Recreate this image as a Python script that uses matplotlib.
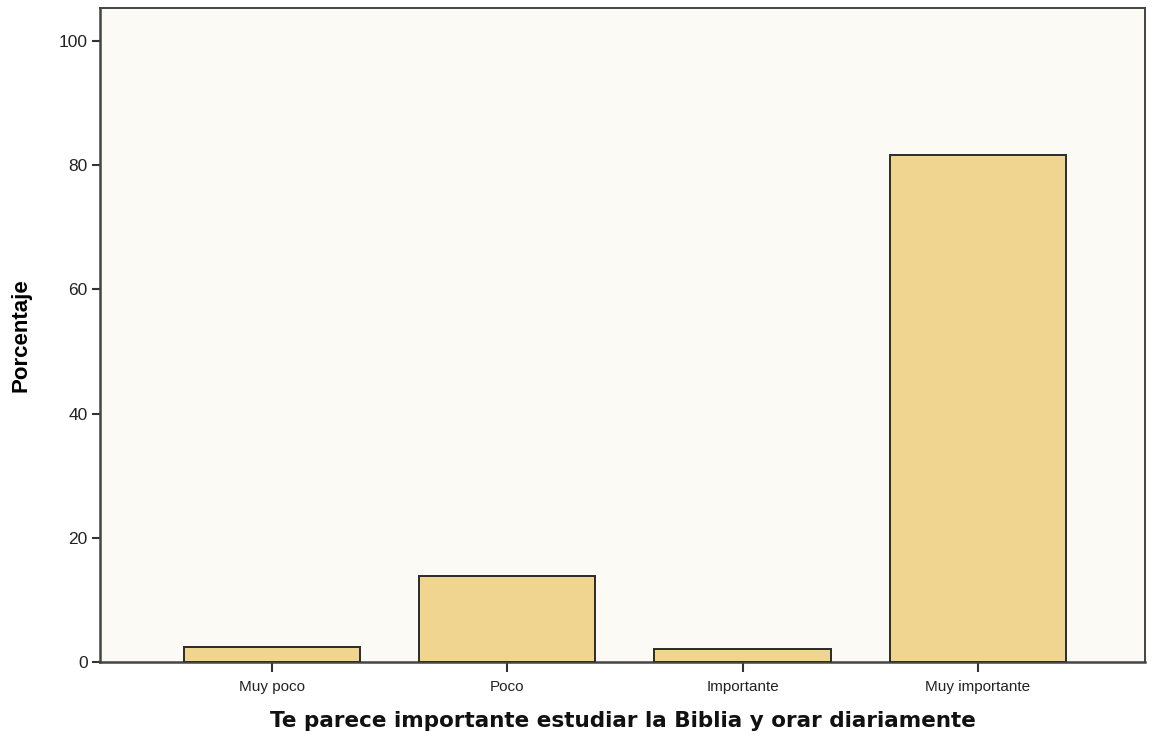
import matplotlib.pyplot as plt

# Response categories and percentages
categories = ['Muy poco', 'Poco', 'Importante', 'Muy importante']
percentages = [2.4, 13.9, 2.1, 81.6]
y_ticks = [0, 20, 40, 60, 80, 100]

fig = plt.figure(figsize=(11.55, 7.42), dpi=100)
fig.patch.set_facecolor('white')
ax = fig.add_axes([0.0866, 0.1078, 0.9047, 0.8815])
ax.set_facecolor('#FBFAF5')

x = range(len(categories))
ax.bar(x, percentages, width=0.75, color='#F0D590', edgecolor='#2b2b2b', linewidth=1.4, zorder=3)

ax.set_xlim(-0.73, 3.71)
ax.set_ylim(0, 105.3)
ax.set_xticks(list(x))
ax.set_xticklabels(categories, fontsize=11, family='Liberation Sans', color='#222222')
ax.set_yticks(y_ticks)
ax.set_yticklabels([str(v) for v in y_ticks], fontsize=12.5, family='Liberation Sans', color='#222222')
ax.tick_params(axis='x', length=7, width=1.5, color='#333333', pad=6)
ax.tick_params(axis='y', length=6, width=1.5, color='#333333', pad=3)

for side in ax.spines.values():
    side.set_color('#444444')
    side.set_linewidth(1.4)
ax.spines['left'].set_linewidth(1.8)
ax.spines['bottom'].set_linewidth(1.8)

ax.set_ylabel('Porcentaje', fontsize=16, fontweight='bold', family='Liberation Sans')
ax.yaxis.set_label_coords(-0.066, 0.5)
ax.set_xlabel('Te parece importante estudiar la Biblia y orar diariamente',
              fontsize=15.5, fontweight='bold', family='DejaVu Sans', labelpad=12, color='#111111')

plt.savefig('out.png', dpi=100)
plt.close()
